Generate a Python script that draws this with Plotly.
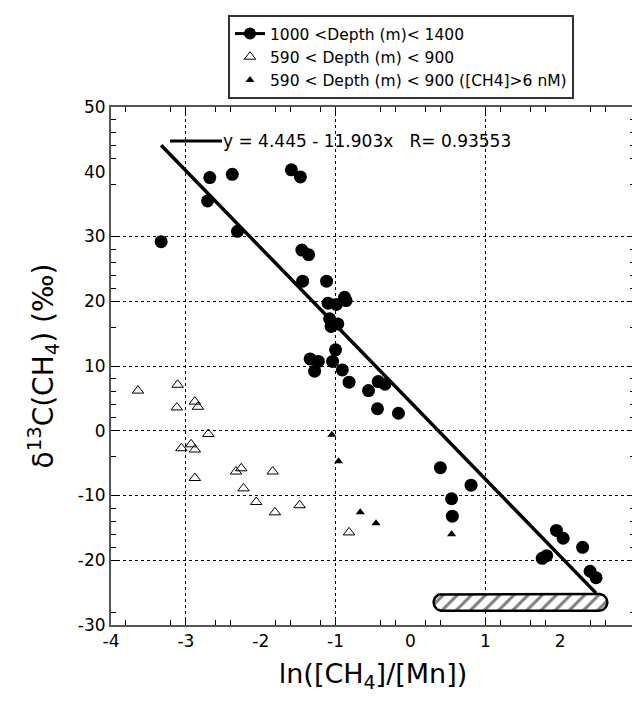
import numpy as np
import plotly.graph_objects as go

# ---------------- data ----------------
deep_x = [-3.33, -2.68, -2.38, -2.71, -2.31, -1.59, -1.47, -1.45, -1.36, -1.44,
          -1.12, -1.10, -0.99, -0.88, -0.86, -1.08, -1.06, -0.97, -1.00, -1.34,
          -1.23, -1.28, -1.04, -0.91, -0.82, -0.43, -0.34, -0.56, -0.44, -0.16,
          0.40, 0.81, 0.55, 0.56, 1.95, 2.04, 2.30, 1.76, 1.82, 2.40, 2.48]
deep_y = [29.2, 39.1, 39.6, 35.5, 30.8, 40.3, 39.2, 27.9, 27.2, 23.1,
          23.1, 19.7, 19.5, 20.6, 20.1, 17.3, 16.1, 16.5, 12.5, 11.1,
          10.7, 9.2, 10.7, 9.4, 7.5, 7.6, 7.2, 6.2, 3.4, 2.7,
          -5.7, -8.4, -10.5, -13.2, -15.4, -16.6, -18.0, -19.7, -19.3, -21.7, -22.7]

shallow_x = [-3.64, -3.11, -3.12, -2.88, -2.84, -2.70, -3.06, -2.93, -2.88, -2.88,
             -2.33, -2.26, -1.84, -2.23, -2.06, -1.81, -1.48, -0.82]
shallow_y = [6.2, 7.1, 3.6, 4.5, 3.7, -0.5, -2.7, -2.1, -2.9, -7.3,
             -6.3, -5.8, -6.3, -8.9, -11.0, -12.6, -11.5, -15.7]

shallow_ch4_x = [-1.05, -0.96, -0.67, -0.46, 0.55]
shallow_ch4_y = [-0.6, -4.7, -12.6, -14.3, -16.0]

fit_intercept = 4.445
fit_slope = -11.903
fit_r = 0.93553

series_names = ["1000 <Depth (m)< 1400",
                "590 < Depth (m) < 900",
                "590 < Depth (m) < 900 ([CH4]>6 nM)"]

x_range = [-4, 3]
y_range = [-30, 50]
x_ticks = [-4, -3, -2, -1, 0, 1, 2, 3]
x_tick_text = ["-4", "-3", "-2", "-1", "0", "1", "2", "3"]
y_ticks = [-30, -20, -10, 0, 10, 20, 30, 40, 50]
y_tick_text = ["-30", "-20", "-10", "0", "10", "20", "30", "40", "50"]
x_grid = [-3, -1, 1]
y_grid = [-20, -10, 0, 10, 20, 30]
x_minor = [-3.8, -3.2, -2.6, -2.4, -1.8, -1.6, -1.2, -0.4, -0.2, 0.2, 0.4,
           1.2, 1.6, 1.8, 2.4, 2.6]
y_minor = [48, 46, 44, 42, 38, 28, 26, 24, 22, 16, 8, 6, 4, 2, -4,
           -12, -14, -16, -18, -28]

# hatched region (rounded bar)
hatch_x = [0.31, 2.63]
hatch_y = [-27.8, -25.2]

# ---------------- layout geometry ----------------
OFF = 8                      # page body margin of the html page
W, H = 640 - OFF, 702 - OFF
PL, PR, PT, PB = 111, 635, 107, 625   # plot box in page pixels
ML, MR, MT, MB = PL - OFF, (640 - PR), PT - OFF, (702 - PB)
PW, PH = PR - PL, PB - PT
FONT = "DejaVu Sans"


def paper_x(px):
    return (px - PL) / PW


def paper_y(py):
    return (PB - py) / PH


fig = go.Figure()

# hatched pill outline computed from its extent
px_per_x = PW / (x_range[1] - x_range[0])
px_per_y = PH / (y_range[1] - y_range[0])
r_px = (hatch_y[1] - hatch_y[0]) * px_per_y / 2
rx = r_px / px_per_x
ry = r_px / px_per_y
yc = (hatch_y[0] + hatch_y[1]) / 2
t1 = np.linspace(-np.pi / 2, np.pi / 2, 25)
t2 = np.linspace(np.pi / 2, 3 * np.pi / 2, 25)
px_ = np.concatenate([hatch_x[1] - rx + rx * np.cos(t1), hatch_x[0] + rx + rx * np.cos(t2)])
py_ = np.concatenate([yc + ry * np.sin(t1), yc + ry * np.sin(t2)])
px_ = np.append(px_, px_[0])
py_ = np.append(py_, py_[0])
fig.add_trace(go.Scatter(
    x=px_, y=py_, mode="lines", fill="toself", fillcolor="white",
    fillpattern=dict(shape="/", fgcolor="black", bgcolor="white", size=10, solidity=0.3),
    line=dict(color="black", width=2.5), showlegend=False, hoverinfo="skip"))

# regression line
fx = np.array([min(deep_x), max(deep_x)])
fig.add_trace(go.Scatter(x=fx, y=fit_intercept + fit_slope * fx, mode="lines",
                         line=dict(color="black", width=3.5), showlegend=False))

# legend proxy for the deep series (line + marker)
fig.add_trace(go.Scatter(x=[None], y=[None], mode="lines+markers", name=series_names[0],
                         line=dict(color="black", width=3),
                         marker=dict(symbol="circle", size=12, color="black")))

fig.add_trace(go.Scatter(x=deep_x, y=deep_y, mode="markers", showlegend=False,
                         marker=dict(symbol="circle", size=13, color="black")))
fig.add_trace(go.Scatter(x=shallow_x, y=shallow_y, mode="markers", name=series_names[1],
                         marker=dict(symbol="triangle-up-open", size=10, color="black",
                                     line=dict(width=1, color="black"))))
fig.add_trace(go.Scatter(x=shallow_ch4_x, y=shallow_ch4_y, mode="markers", name=series_names[2],
                         marker=dict(symbol="triangle-up", size=8, color="black")))

# invisible trace on the overlay axes so they render
fig.add_trace(go.Scatter(x=[None], y=[None], xaxis="x2", yaxis="y2", showlegend=False))

axis_common = dict(showline=True, linecolor="#555555", linewidth=2, mirror="ticks",
                   zeroline=False, showgrid=False, ticks="inside", ticklen=0,
                   automargin=False,
                   tickfont=dict(family=FONT, size=17, color="black"))

fig.update_layout(
    width=W, height=H,
    margin=dict(l=ML, r=MR, t=MT, b=MB),
    paper_bgcolor="white", plot_bgcolor="white",
    font=dict(family=FONT, color="black"),
    xaxis=dict(range=x_range, tickmode="array", tickvals=x_ticks, ticktext=x_tick_text,
               **axis_common,
               minor=dict(tickmode="array", tickvals=x_minor, ticks="inside", ticklen=5,
                          tickwidth=1, tickcolor="black"),
               title=dict(text="ln([CH<sub>4</sub>]/[Mn])", font=dict(family=FONT, size=27),
                          standoff=14)),
    yaxis=dict(range=y_range, tickmode="array", tickvals=y_ticks, ticktext=y_tick_text,
               **axis_common,
               minor=dict(tickmode="array", tickvals=y_minor, ticks="inside", ticklen=5,
                          tickwidth=1, tickcolor="black"),
               title=dict(text="δ<sup>13</sup>C(CH<sub>4</sub>) (‰)", font=dict(family=FONT, size=28),
                          standoff=16)),
    xaxis2=dict(overlaying="x", matches="x", range=x_range, tickmode="array", tickvals=x_grid,
                showgrid=True, gridcolor="black", griddash="dot", gridwidth=1,
                ticks="inside", ticklen=8, tickcolor="black", showticklabels=False,
                showline=False, zeroline=False, mirror="ticks", side="bottom",
                automargin=False),
    yaxis2=dict(overlaying="y", matches="y", range=y_range, tickmode="array", tickvals=y_grid,
                showgrid=True, gridcolor="black", griddash="dot", gridwidth=1,
                ticks="inside", ticklen=8, tickcolor="black", showticklabels=False,
                showline=False, zeroline=False, mirror="ticks", side="left",
                automargin=False),
    legend=dict(x=paper_x(228), y=paper_y(15), xanchor="left", yanchor="top",
                bordercolor="#333333", borderwidth=2, bgcolor="white",
                font=dict(family=FONT, size=15.5, color="black"), tracegroupgap=0,
                itemwidth=30),
    showlegend=True,
)

# equation annotation with its key line
eq_y = paper_y(141)
fig.add_shape(type="line", xref="paper", yref="paper",
              x0=paper_x(170), x1=paper_x(222), y0=eq_y, y1=eq_y,
              line=dict(color="black", width=3))
fig.add_annotation(xref="paper", yref="paper", x=paper_x(221), y=eq_y,
                   xanchor="left", yanchor="middle", showarrow=False,
                   text=f"y = {fit_intercept} - {abs(fit_slope)}x   R= {fit_r}",
                   font=dict(family=FONT, size=17, color="black"))

fig.write_html("out.html")
